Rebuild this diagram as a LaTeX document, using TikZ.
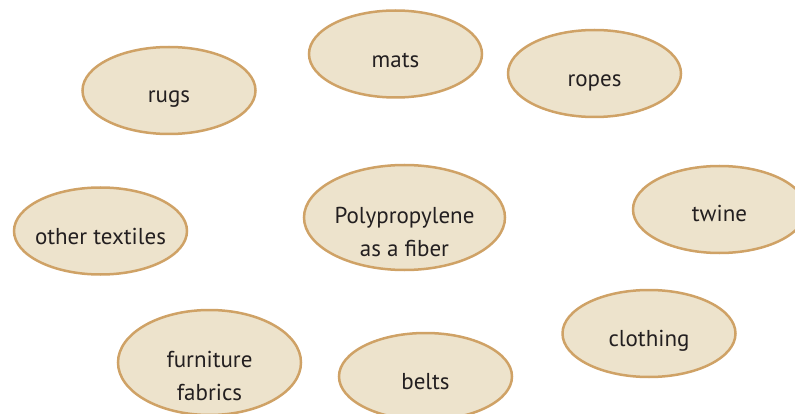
\documentclass[tikz,border=0pt]{standalone}
\usepackage{fontspec}
\setmainfont{PT Sans}
\usetikzlibrary{shapes.geometric}
\definecolor{pillfill}{HTML}{EDE3CC}
\definecolor{pillline}{HTML}{CFA266}
\definecolor{inktext}{HTML}{231F20}
\tikzset{
  pill/.style={ellipse, draw=pillline, fill=pillfill, line width=2.5pt, inner sep=0pt, minimum width=173pt, minimum height=87pt},
  bigpill/.style={pill, minimum width=201pt, minimum height=105pt},
  furnpill/.style={pill, minimum width=183pt, minimum height=105pt},
  word/.style={anchor=base, inner sep=0pt, text=inktext, font=\fontsize{23}{33}\selectfont, align=center}
}
\begin{document}
\begin{tikzpicture}[x=1pt, y=-1pt]
\useasboundingbox (0,0) rectangle (795,414);
\node[pill] (rugs) at (169,90.5) {};
\node[pill] (mats) at (395.5,54) {};
\node[pill] (ropes) at (594.5,73.5) {};
\node[pill] (other) at (100.5,231) {};
\node[bigpill] (poly) at (404.5,217.5) {};
\node[pill] (twine) at (719.5,209.5) {};
\node[pill] (clothing) at (649,333.5) {};
\node[furnpill] (furn) at (209.5,362.5) {};
\node[pill] (belts) at (425.5,376.5) {};
\node[word] (trugs) at ([yshift=-12pt]rugs.center) {rugs};
\node[word] (tmats) at ([yshift=-13.5pt]mats.center) {mats};
\node[word] (tropes) at ([yshift=-13.5pt]ropes.center) {ropes};
\node[word] (tother) at ([yshift=-13pt]other.center) {other textiles};
\node[word] (tpoly) at ([yshift=-38.5pt]poly.center) {Polypropylene\\as a fiber};
\node[word] (ttwine) at ([yshift=-12pt]twine.center) {twine};
\node[word] (tclothing) at ([yshift=-13pt]clothing.center) {clothing};
\node[word] (tfurn) at ([yshift=-37.5pt]furn.center) {furniture\\fabrics};
\node[word] (tbelts) at ([yshift=-12.5pt]belts.center) {belts};
\end{tikzpicture}
\end{document}
